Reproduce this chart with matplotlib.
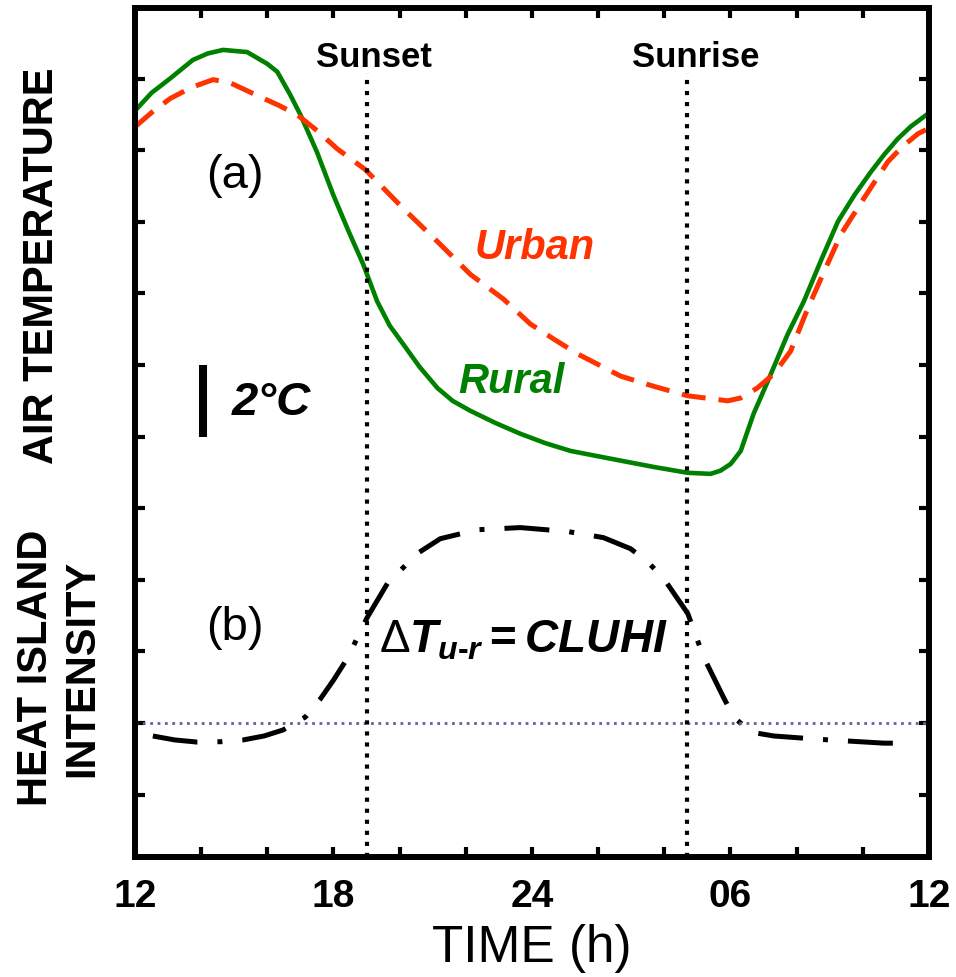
import matplotlib as mpl
import matplotlib.pyplot as plt
import numpy as np

mpl.rcParams['font.family'] = ['Liberation Sans', 'DejaVu Sans']
mpl.rcParams['mathtext.fontset'] = 'custom'
mpl.rcParams['mathtext.rm'] = 'Liberation Sans:bold'
mpl.rcParams['mathtext.it'] = 'Liberation Sans:italic:bold'
mpl.rcParams['mathtext.bf'] = 'Liberation Sans:bold'
mpl.rcParams['mathtext.sf'] = 'Liberation Sans'

# time axis runs from noon (12) through midnight (24) to next noon (36)
tick_hours = [12, 18, 24, 30, 36]
tick_labels = ['12', '18', '24', '06', '12']
minor_hours = [14, 16, 20, 22, 26, 28, 32, 34]
temp_ticks = [-2, 0, 2, 4, 6, 8, 10, 12, 14, 16, 18]

sunset = 19.0
sunrise = 28.7

# (a) air temperature, degC on an arbitrary offset
rural_hour = [12.0, 12.5, 13.06, 13.75, 14.2, 14.66, 15.39, 16.0, 16.3, 16.69,
              17.0, 17.5, 17.99, 18.45, 18.9, 19.32, 19.7, 20.11, 20.6, 21.14,
              21.6, 22.14, 22.9, 23.65, 24.4, 25.17, 26.68, 27.7, 28.71, 29.40,
              29.70, 30.01, 30.31, 30.70, 31.13, 31.73, 32.22, 32.75, 33.25,
              33.75, 34.25, 34.65, 35.06, 35.45, 35.9]
rural_temp = [17.1, 17.6, 18.0, 18.52, 18.7, 18.8, 18.74, 18.41, 18.19, 17.55,
              16.99, 15.95, 14.76, 13.75, 12.81, 11.78, 11.1, 10.58, 9.95, 9.36,
              9.0, 8.72, 8.38, 8.08, 7.82, 7.60, 7.33, 7.15, 6.99, 6.96,
              7.05, 7.24, 7.60, 8.64, 9.55, 10.86, 11.78, 12.95, 14.01,
              14.75, 15.40, 15.88, 16.32, 16.66, 16.97]

urban_hour = [12.0, 12.5, 13.06, 13.7, 14.36, 14.88, 15.78, 16.35, 16.90, 17.5,
              18.11, 18.96, 20.11, 21.14, 22.14, 23.14, 23.96, 24.7, 25.38,
              26.68, 27.7, 28.71, 29.92, 30.31, 30.8, 31.31, 31.82, 32.34,
              32.85, 33.34, 34.03, 34.76, 35.2, 35.67, 35.91]
urban_temp = [16.65, 17.05, 17.44, 17.75, 17.97, 17.88, 17.49, 17.25, 16.99, 16.55,
              16.04, 15.46, 14.37, 13.45, 12.53, 11.84, 11.14, 10.7, 10.31,
              9.69, 9.4, 9.14, 9.00, 9.08, 9.35, 9.75, 10.39, 11.59,
              12.65, 13.65, 14.65, 15.68, 16.1, 16.46, 16.57]

# (b) heat island intensity, urban minus rural
hi_hour = [12.54, 13.2, 13.88, 14.6, 15.27, 15.9, 16.48, 17.15, 17.60, 18.0,
           18.42, 19.02, 19.63, 20.54, 21.23, 22.35, 23.65, 25.08, 26.16,
           26.98, 27.5, 27.98, 28.71, 29.19, 29.80, 30.10, 30.61, 31.31,
           32.64, 34.64, 35.37]
hi_val = [-0.36, -0.47, -0.53, -0.52, -0.47, -0.36, -0.19, 0.17, 0.67, 1.2,
          1.81, 2.95, 3.90, 4.74, 5.15, 5.40, 5.46, 5.35, 5.18,
          4.87, 4.5, 4.04, 3.06, 1.84, 0.70, 0.17, -0.25, -0.36,
          -0.45, -0.56, -0.56]

scale_bar_hour = [14.05, 14.05]
scale_bar_temp = [8.0, 10.0]

GREEN = '#008000'
RED = '#ff3300'

fig = plt.figure(figsize=(9.56, 9.77), dpi=100)
ax = fig.add_axes([0.1412, 0.1228, 0.8305, 0.869])

ax.plot(rural_hour, rural_temp, color=GREEN, lw=3.3)
urban_line, = ax.plot(urban_hour, urban_temp, color=RED, lw=3.6)
urban_line.set_dashes([4.8, 2.6])
hi_line, = ax.plot(hi_hour, hi_val, color='black', lw=3.6)
hi_line.set_dashes([9, 4, 1, 4])

ax.axhline(0, color='#6060a8', ls=':', lw=2.0)
ax.vlines([sunset, sunrise], -3.74, 18.15, colors='black', linestyles=':', lw=3.0)

ax.plot(scale_bar_hour, scale_bar_temp, color='black', lw=5.8, solid_capstyle='butt')

ax.text(19.22, 18.6, 'Sunset', ha='center', va='center', fontsize=25, fontweight='bold')
ax.text(28.96, 18.6, 'Sunrise', ha='center', va='center', fontsize=25, fontweight='bold')
ax.text(15.02, 15.28, '(a)', ha='center', va='center', fontsize=34)
ax.text(15.02, 2.65, '(b)', ha='center', va='center', fontsize=34)
ax.text(24.09, 13.27, 'Urban', ha='center', va='center', fontsize=30,
        fontweight='bold', fontstyle='italic', color=RED)
ax.text(23.37, 9.53, 'Rural', ha='center', va='center', fontsize=30,
        fontweight='bold', fontstyle='italic', color=GREEN)
ax.text(16.11, 8.94, '2°C', ha='center', va='center', fontsize=34,
        fontweight='bold', fontstyle='italic')
ax.text(23.73, 2.32, r'$\mathsf{\Delta}T_{u\text{-}r} = CLUHI$', ha='center',
        va='center', fontsize=33)

ax.set_xlim(12, 36)
ax.set_ylim(-3.74, 19.97)
ax.set_xticks(tick_hours)
ax.set_xticklabels(tick_labels, fontsize=28, fontweight='bold')
ax.set_xticks(minor_hours, minor=True)
ax.set_yticks(temp_ticks)
ax.tick_params(which='both', direction='in', length=7, width=3,
               top=True, right=True, labelleft=False, pad=16)

for sp in ax.spines.values():
    sp.set_linewidth(4.3)

ax.set_xlabel('TIME (h)', fontsize=37, labelpad=6)

fig.text(42 / 956, 1 - 266 / 977, 'AIR TEMPERATURE', rotation=90,
         ha='center', va='center', fontsize=30, fontweight='bold')
fig.text(59 / 956, 1 - 668 / 977, 'HEAT ISLAND\nINTENSITY', rotation=90,
         ha='center', va='center', fontsize=30, fontweight='bold',
         multialignment='center')

fig.savefig('out.png', dpi=100)
